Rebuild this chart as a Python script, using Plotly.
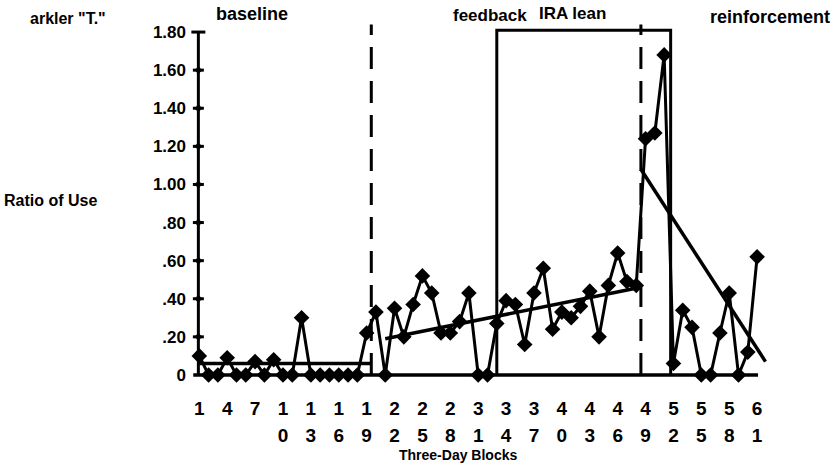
import plotly.graph_objects as go

# ---- data -------------------------------------------------------------
blocks = list(range(1, 62))
ratio_of_use = [
    # baseline (1-18)
    0.10, 0, 0, 0.09, 0, 0, 0.07, 0, 0.08, 0, 0, 0.30, 0, 0, 0, 0, 0, 0,
    # feedback (19-32)
    0.22, 0.33, 0, 0.35, 0.20, 0.37, 0.52, 0.43, 0.22, 0.22, 0.28, 0.43, 0, 0,
    # IRA lean (33-48)
    0.27, 0.39, 0.37, 0.16, 0.43, 0.56, 0.24, 0.33, 0.30, 0.36, 0.44, 0.20,
    0.47, 0.64, 0.49, 0.47,
    # reinforcement (49-61)
    1.24, 1.27, 1.68, 0.06, 0.34, 0.25, 0, 0, 0.22, 0.43, 0, 0.12, 0.62,
]

baseline_mean_x = [1, 19.5]
baseline_mean_y = [0.06, 0.06]
feedback_trend_x = [21, 48.5]
feedback_trend_y = [0.19, 0.46]
reinf_trend_x = [48.5, 61.9]
reinf_trend_y = [1.08, 0.07]

phase_changes = [19.5, 48.5]          # dashed condition lines
lean_box = [33, 51.7]                 # IRA lean bracket
phase_labels = ["baseline", "feedback", "IRA lean", "reinforcement"]

y_ticks = [0, 0.2, 0.4, 0.6, 0.8, 1.0, 1.2, 1.4, 1.6, 1.8]
y_ticktext = ["0", ".20", ".40", ".60", ".80", "1.00", "1.20", "1.40", "1.60", "1.80"]
x_ticks = list(range(1, 62, 3))

# ---- geometry ---------------------------------------------------------
W, H = 837, 471
X_RANGE = [0, 64]
Y_RANGE = [-0.1, 1.9]
ML, MR, MT, MB = 189.7, 52.1, 12.9, 77.0
PW, PH = W - ML - MR, H - MT - MB
UNIT_X = PW / (X_RANGE[1] - X_RANGE[0])   # pixels per block

def px_x(p):
    return (p - ML) / PW

def px_y(p):
    return 1 - (p - MT) / PH

FONT = "Liberation Sans"
INK = "black"
bold = dict(family=FONT, color=INK, weight="bold")

fig = go.Figure()

# raw series
fig.add_trace(go.Scatter(
    x=blocks, y=ratio_of_use, mode="lines+markers",
    line=dict(color=INK, width=3),
    marker=dict(symbol="diamond", size=12, color=INK),
    cliponaxis=False, showlegend=False, hoverinfo="skip"))

# condition trend lines
for tx, ty in [(baseline_mean_x, baseline_mean_y),
               (feedback_trend_x, feedback_trend_y),
               (reinf_trend_x, reinf_trend_y)]:
    fig.add_trace(go.Scatter(x=tx, y=ty, mode="lines",
                             line=dict(color=INK, width=3.5),
                             showlegend=False, hoverinfo="skip"))

# y axis with crossing tick marks and a wider cap at the top
axis_x = 0.9
half_tick = 5.5 / UNIT_X
cap = 7 / UNIT_X
tx, ty = [axis_x, axis_x, None], [0, y_ticks[-1], None]
for v in y_ticks[1:]:
    h = cap if v == y_ticks[-1] else half_tick
    tx += [axis_x - h, axis_x + h, None]
    ty += [v, v, None]
fig.add_trace(go.Scatter(x=tx, y=ty, mode="lines", line=dict(color=INK, width=3),
                         cliponaxis=False, showlegend=False, hoverinfo="skip"))
fig.add_trace(go.Scatter(x=[axis_x] * (len(y_ticks) - 2), y=y_ticks[1:-1], mode="markers",
                         marker=dict(symbol="diamond", size=6, color=INK),
                         showlegend=False, hoverinfo="skip"))

shapes = []
# x axis / zero line
shapes.append(dict(type="line", xref="x", yref="y", x0=0.35, x1=blocks[-1] + 0.1,
                   y0=0, y1=0, line=dict(color=INK, width=3.5)))
# dashed phase lines
for pc in phase_changes:
    shapes.append(dict(type="line", xref="x", yref="y", x0=pc, x1=pc,
                       y0=0, y1=1.84, line=dict(color=INK, width=3, dash="22px,12px")))
# IRA lean bracket
shapes.append(dict(type="path", xref="x", yref="y",
                   path=f"M {lean_box[0]},0 L {lean_box[0]},1.81 L {lean_box[1]},1.81 L {lean_box[1]},0",
                   line=dict(color=INK, width=3)))

annotations = []
label_spec = [(252, 14, 18), (490, 15, 17), (572, 13, 17), (770, 17, 18)]
for txt, (lx, ly, fs) in zip(phase_labels, label_spec):
    annotations.append(dict(text=txt, xref="paper", yref="paper",
                            x=px_x(lx), y=px_y(ly), showarrow=False,
                            xanchor="center", yanchor="middle",
                            font=dict(size=fs, **bold)))
annotations.append(dict(text='arkler "T."', xref="paper", yref="paper",
                        x=px_x(108), y=px_y(18), showarrow=False,
                        xanchor="right", yanchor="middle",
                        font=dict(size=16, **bold)))
annotations.append(dict(text="Ratio of Use", xref="paper", yref="paper",
                        x=px_x(50), y=px_y(200), showarrow=False,
                        xanchor="center", yanchor="middle",
                        font=dict(size=16, **bold)))
annotations.append(dict(text="Three-Day Blocks", xref="paper", yref="paper",
                        x=px_x(458), y=px_y(455), showarrow=False,
                        xanchor="center", yanchor="middle",
                        font=dict(size=14, **bold)))

second_row = [t for t in x_ticks if t >= 10]

fig.update_layout(
    width=W, height=H,
    margin=dict(l=ML, r=MR, t=MT, b=MB, pad=0),
    paper_bgcolor="white", plot_bgcolor="white",
    showlegend=False,
    shapes=shapes, annotations=annotations,
    xaxis=dict(range=X_RANGE, showgrid=False, zeroline=False, showline=False,
               ticks="", tickmode="array", tickvals=x_ticks,
               ticktext=[str(t)[0] for t in x_ticks],
               tickfont=dict(size=19, **bold), ticklabelstandoff=1),
    xaxis2=dict(range=X_RANGE, overlaying="x", anchor="y", side="bottom",
                showgrid=False, zeroline=False, showline=False, ticks="",
                tickmode="array", tickvals=second_row,
                ticktext=[str(t)[1] for t in second_row],
                tickfont=dict(size=19, **bold), ticklabelstandoff=28),
    yaxis=dict(range=Y_RANGE, showgrid=False, zeroline=False, showline=False,
               ticks="", tickmode="array", tickvals=y_ticks, ticktext=y_ticktext,
               tickfont=dict(size=17, **bold), ticklabelstandoff=3),
)

# invisible trace so the second row of block digits is rendered
fig.add_trace(go.Scatter(x=[X_RANGE[0]], y=[Y_RANGE[0]], xaxis="x2", mode="markers",
                         marker=dict(opacity=0), showlegend=False, hoverinfo="skip"))

fig.write_html("out.html")
